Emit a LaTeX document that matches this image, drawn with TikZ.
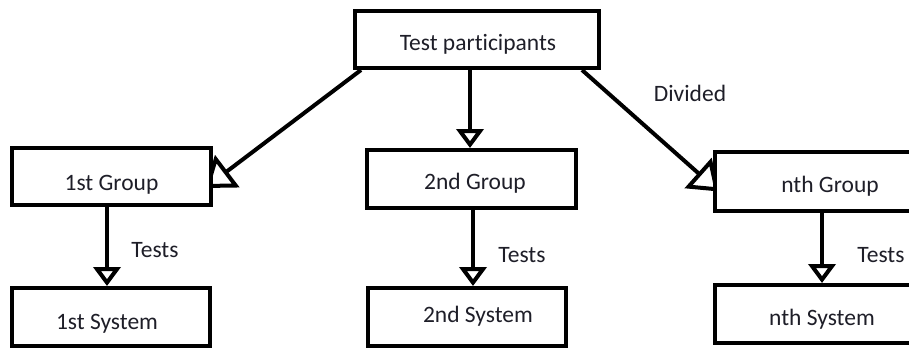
\documentclass[tikz,border=0pt]{standalone}
\usepackage{fontspec}
\setmainfont[Ligatures=NoCommon]{Carlito}
\usetikzlibrary{arrows.meta}
\pgfdeclarelayer{paper}
\pgfdeclarelayer{links}
\pgfsetlayers{paper,links,main}
\definecolor{ink}{RGB}{30,30,40}
% text with its baseline set off from the box centre:
% #1 = twice the x offset, #2 = drop of the baseline, #3 = text
\newcommand\boxtxt[3]{\smash{\raisebox{-#2pt}{\makebox[0pt][c]{\hspace*{#1pt}#3}}}}
\tikzset{
  box/.style={draw=black, line width=4pt, fill=white, rectangle, inner sep=0pt,
    text=ink, font=\fontsize{23.5}{28}\selectfont},
  lbl/.style={text=ink, font=\fontsize{23.5}{28}\selectfont, inner sep=0pt},
  down/.style={line width=4pt, -{Triangle[open, length=19pt, width=27pt]}},
  slant/.style={line width=4pt, -{Triangle[open, length=28pt, width=40pt]}}
}
\begin{document}
\begin{tikzpicture}[x=1pt, y=-1pt]
\useasboundingbox (0,0) rectangle (909,349);
\begin{pgfonlayer}{paper}
  \fill[white] (0,0) rectangle (909,349);
\end{pgfonlayer}

% boxes
\node[box, minimum width=244pt, minimum height=57pt] (tp) at (477,39.5) {\boxtxt{2}{11}{Test participants}};
\node[box, minimum width=199pt, minimum height=57pt] (g1) at (111.5,176.5) {\boxtxt{0}{14}{1st Group}};
\node[box, minimum width=198pt, minimum height=58pt] (s1) at (110.5,317) {\boxtxt{-7}{12.5}{1st System}};
\node[box, minimum width=209pt, minimum height=58pt] (g2) at (471.5,179) {\boxtxt{7}{10.5}{2nd Group}};
\node[box, minimum width=198pt, minimum height=58pt] (s2) at (467,317) {\boxtxt{22}{5.5}{2nd System}};
\node[box, minimum width=230pt, minimum height=59pt] (gn) at (830,181.5) {\boxtxt{0}{11}{nth Group}};
\node[box, minimum width=230pt, minimum height=58pt] (sn) at (830,314) {\boxtxt{-16}{11.5}{nth System}};

% labels
\node[lbl] (dv) at (690,93) {Divided};
\node[lbl] (t1) at (155,250) {Tests};
\node[lbl] (t2) at (522,255) {Tests};
\node[lbl] (tn) at (881,255) {Tests};

% end points of the slanted connectors (tips tucked under the boxes)
\coordinate (dl) at (205,188);
\coordinate (dr) at (719,191.5);

\begin{pgfonlayer}{links}
  \draw[slant] ([xshift=8pt]tp.south west) -- (dl);
  \draw[slant] ([xshift=-19pt]tp.south east) -- (dr);
  \draw[down] ([xshift=-7pt]tp.south) -- ([xshift=-7pt]tp.south |- g2.north);
  \draw[down] ([xshift=-4.5pt]g1.south) -- ([xshift=-4.5pt]g1.south |- s1.north);
  \draw[down] ([xshift=1.5pt]g2.south) -- ([xshift=1.5pt]g2.south |- s2.north);
  \draw[down] ([xshift=-8pt]gn.south) -- ([xshift=-8pt]gn.south |- sn.north);
\end{pgfonlayer}
\end{tikzpicture}
\end{document}
